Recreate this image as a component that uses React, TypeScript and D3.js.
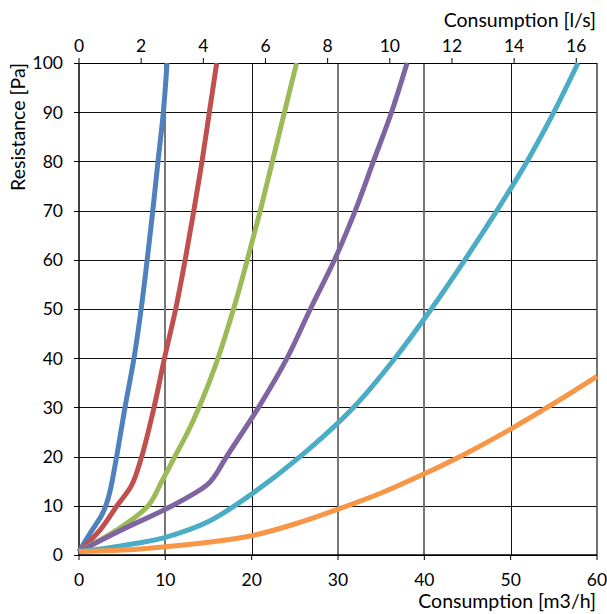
import React from "react";
import * as d3 from "d3";

const W = 607;
const H = 614;

const xTicks = [0, 10, 20, 30, 40, 50, 60];
const yTicks = [0, 10, 20, 30, 40, 50, 60, 70, 80, 90, 100];
const topTicks = [0, 2, 4, 6, 8, 10, 12, 14, 16];
const grayVertical = [10, 30, 40];

const seriesColors = ["#4F81BD", "#C0504D", "#9BBB59", "#8064A2", "#4BACC6", "#F79646"];

const blue: [number, number][] = [
  [0, 0.7], [1.5, 5], [2.6, 8], [3.1, 10], [3.6, 13], [4.36, 20], [5.33, 30], [6.37, 40],
  [7.2, 50], [7.9, 60], [8.55, 70], [9.15, 80], [9.77, 90], [10.2, 100],
];
const red: [number, number][] = [
  [0, 0.7], [2.4, 5], [4.4, 10], [6.1, 14.2], [7.26, 20], [8.69, 30], [9.9, 40],
  [11.2, 50], [12.3, 60], [13.3, 70], [14.25, 80], [15.1, 90], [15.95, 100],
];
const green: [number, number][] = [
  [0, 0.7], [4.3, 5], [8.0, 10], [9.6, 15], [11.1, 20], [12.6, 25], [13.9, 30], [15.05, 35],
  [16.1, 40], [17.9, 50], [19.5, 60], [21.0, 70], [22.4, 80], [23.8, 90], [25.2, 100],
];
const purple: [number, number][] = [
  [0, 0.7], [4.8, 5], [10.8, 10], [14.8, 14.2], [15.7, 16], [17.1, 20], [20.8, 30],
  [24.1, 40], [26.8, 50], [29.6, 60], [32.0, 70], [34.1, 80], [36.2, 90], [38.0, 100],
];
const cyan: [number, number][] = [
  [0, 0.7], [5, 1.9], [10, 3.6], [15, 6.8], [20, 12.4], [25.6, 20], [31.8, 30],
  [36.6, 40], [40.8, 50], [44.7, 60], [48.4, 70], [51.9, 80], [55.0, 90], [57.8, 100],
];
const orange: [number, number][] = [
  [0, 0.7], [5, 1.0], [10, 1.7], [15, 2.6], [20, 3.9], [25, 6.3], [30, 9.3], [35, 12.6],
  [40, 16.5], [45, 20.8], [50, 25.6], [55, 30.8], [60, 36.3],
];

const series = [blue, red, green, purple, cyan, orange];

const LPS_TO_M3H = 3.6;

export default function App() {
  const left = 79;
  const right = 597;
  const top = 63;
  const bottom = 555;

  const x = d3.scaleLinear().domain([0, 60]).range([left, right]);
  const xTop = d3.scaleLinear().domain([0, 60 / LPS_TO_M3H]).range([left, right]);
  const y = d3.scaleLinear().domain([0, 100]).range([bottom, top]);

  const line = d3
    .line<[number, number]>()
    .x((d) => x(d[0]))
    .y((d) => y(d[1]))
    .curve(d3.curveCatmullRom.alpha(0.5));

  const font = "Lato, 'Open Sans', sans-serif";
  const tickSize = 17.5;
  const titleSize = 19.5;

  return (
    <svg
      width={W}
      height={H}
      style={{ position: "absolute", left: 0, top: 0, background: "#fff" }}
      fontFamily={font}
    >
      <rect x={0} y={0} width={W} height={H} fill="#fff" />
      {yTicks.map((t) => (
        <line key={"hy" + t} x1={left} x2={right} y1={Math.round(y(t)) + 0.5} y2={Math.round(y(t)) + 0.5} stroke="#111" strokeWidth={1} />
      ))}
      {xTicks.slice(1, -1).map((t) => {
        const gray = grayVertical.includes(t);
        const px = Math.round(x(t));
        return (
          <line
            key={"vx" + t}
            x1={gray ? px : px + 0.5}
            x2={gray ? px : px + 0.5}
            y1={top}
            y2={bottom}
            stroke={gray ? "#777" : "#111"}
            strokeWidth={gray ? 2 : 1}
          />
        );
      })}
      <line x1={right} x2={right} y1={top} y2={bottom} stroke="#444" strokeWidth={1.5} />
      <line x1={left} x2={right} y1={top + 0.5} y2={top + 0.5} stroke="#000" strokeWidth={1.2} />
      <line x1={left} x2={left} y1={top} y2={bottom} stroke="#000" strokeWidth={1.5} />
      <line x1={left} x2={right} y1={bottom} y2={bottom} stroke="#000" strokeWidth={1.5} />
      {yTicks.map((t) => (
        <g key={"ly" + t}>
          <line x1={left - 5} x2={left} y1={Math.round(y(t)) + 0.5} y2={Math.round(y(t)) + 0.5} stroke="#000" />
          <text x={63} y={y(t)} dy="0.36em" textAnchor="end" fontSize={tickSize} fill="#000">
            {t}
          </text>
        </g>
      ))}
      {xTicks.map((t) => (
        <g key={"bx" + t}>
          <line x1={x(t)} x2={x(t)} y1={bottom} y2={bottom + 5} stroke="#000" />
          <text x={x(t)} y={586} textAnchor="middle" fontSize={tickSize} fill="#000">
            {t}
          </text>
        </g>
      ))}
      {topTicks.map((t) => (
        <g key={"tx" + t}>
          <line x1={xTop(t)} x2={xTop(t)} y1={top - 5} y2={top} stroke="#000" />
          <text x={xTop(t)} y={52} textAnchor="middle" fontSize={tickSize} fill="#000">
            {t}
          </text>
        </g>
      ))}
      {series.map((s, i) => (
        <path
          key={"s" + i}
          d={line(s) || ""}
          fill="none"
          stroke={seriesColors[i]}
          strokeWidth={5}
          strokeLinejoin="round"
          strokeLinecap="butt"
        />
      ))}
      <text x={596} y={27} textAnchor="end" fontSize={titleSize} fill="#000">
        Consumption [l/s]
      </text>
      <text x={596} y={608} textAnchor="end" fontSize={titleSize} fill="#000">
        Consumption [m3/h]
      </text>
      <text
        transform={`translate(25, ${top}) rotate(-90)`}
        textAnchor="end"
        fontSize={titleSize}
        fill="#000"
      >
        Resistance [Pa]
      </text>
    </svg>
  );
}
